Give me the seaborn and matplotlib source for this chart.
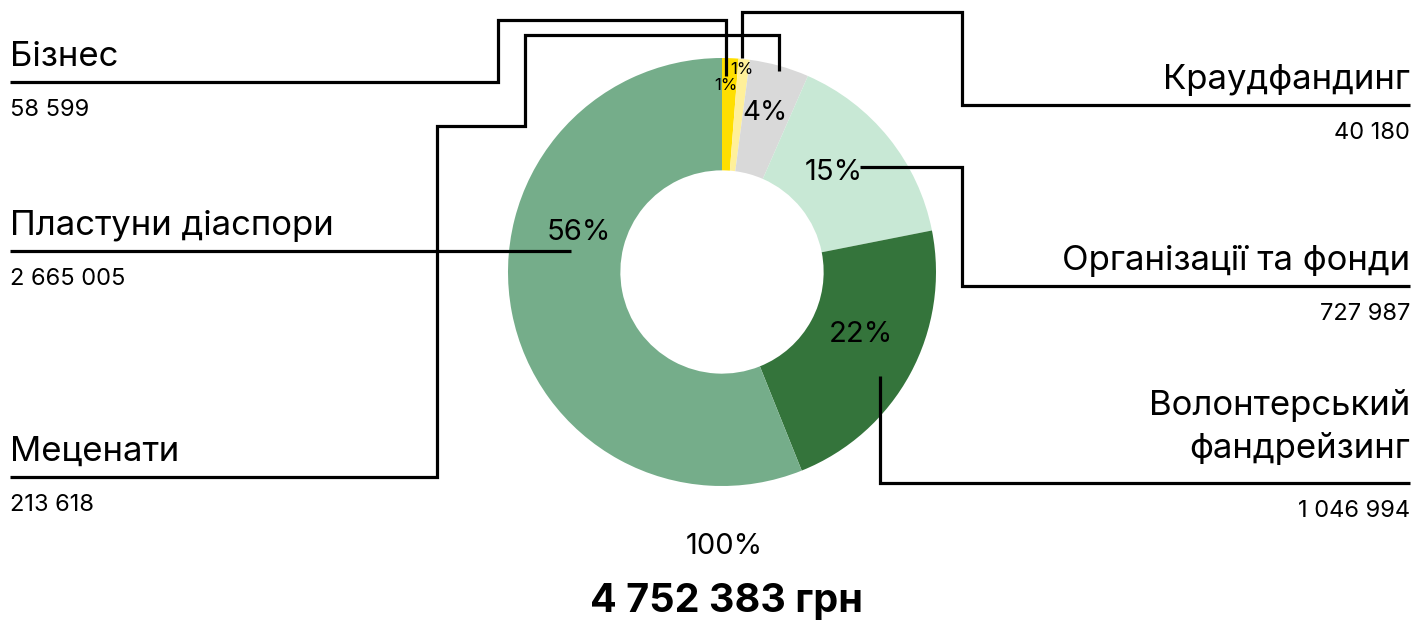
import matplotlib
matplotlib.use("Agg")
import matplotlib.pyplot as plt
import seaborn as sns

# ---- data ----
categories = ["Бізнес", "Краудфандинг", "Меценати", "Організації та фонди",
              "Волонтерський\nфандрейзинг", "Пластуни діаспори"]
amounts = [58599, 40180, 213618, 727987, 1046994, 2665005]
value_labels = ["58 599", "40 180", "213 618", "727 987", "1 046 994", "2 665 005"]
colors = ["#FFDF00", "#FFF09A", "#D9D9D9", "#C8E8D5", "#34743B", "#75AD8A"]
total_pct_label = "100%"
total_label = "4 752 383 грн"

sns.set_theme(style="white")
plt.rcParams['font.family'] = ['Inter', 'DejaVu Sans']

W, H = 1419, 629
fig = plt.figure(figsize=(W / 100, H / 100), dpi=100)

# ---- donut ----
cx, cy, R = 722, 272, 214
ax = fig.add_axes([(cx - R) / W, (H - cy - R) / H, 2 * R / W, 2 * R / H])
wedges, _ = ax.pie(amounts, colors=colors, startangle=90, counterclock=False,
                   radius=1, wedgeprops=dict(width=0.525, linewidth=0))
ax.set_xlim(-1, 1)
ax.set_ylim(-1, 1)
ax.set_aspect('equal')
ax.axis('off')

# ---- overlay in pixel coordinates for annotations ----
ov = fig.add_axes([0, 0, 1, 1])
ov.set_xlim(0, W)
ov.set_ylim(H, 0)
ov.axis('off')

total = sum(amounts)
pcts = [f"{round(a / total * 100)}%" for a in amounts]

# percent label positions (layout)
pct_pos = [(726, 85), (742, 69), (765, 113), (834, 172), (861, 335), (579, 232)]
pct_size = [12, 12, 20, 21, 21, 21]
for p, (x, y), s in zip(pcts, pct_pos, pct_size):
    ov.text(x, y, p, ha='center', va='center', fontsize=s, color='black')

# leader lines (layout)
lead_paths = [
    [(726, 76), (726, 20), (498, 20), (498, 82), (10, 82)],
    [(742, 58), (742, 12), (962, 12), (962, 105), (1410, 105)],
    [(779, 71), (779, 35), (525, 35), (525, 126), (437, 126), (437, 477), (10, 477)],
    [(860, 167), (962, 167), (962, 286), (1410, 286)],
    [(880, 376), (880, 483), (1410, 483)],
    [(571, 251), (10, 251)],
]
sides = ['left', 'right', 'left', 'right', 'right', 'left']

for cat, val, path, side in zip(categories, value_labels, lead_paths, sides):
    xs = [p[0] for p in path]
    ys = [p[1] for p in path]
    ov.plot(xs, ys, color='black', lw=2.3, solid_joinstyle='miter', solid_capstyle='butt')
    ly = path[-1][1]
    tx = path[-1][0]
    lines = cat.split("\n")
    gap = 16 if len(lines) == 1 else 25
    for i, ln in enumerate(reversed(lines)):
        ov.text(tx, ly - gap - i * 43, ln, ha=side, va='baseline', fontsize=25, color='black')
    ov.text(tx, ly + 34, val, ha=side, va='baseline', fontsize=17, color='black')

ov.text(724, 546, total_pct_label, ha='center', va='center', fontsize=21, color='black')
ov.text(726, 612, total_label, ha='center', va='baseline', fontsize=28.5,
        fontweight='bold', color='black')

fig.savefig("out.png", dpi=100)
